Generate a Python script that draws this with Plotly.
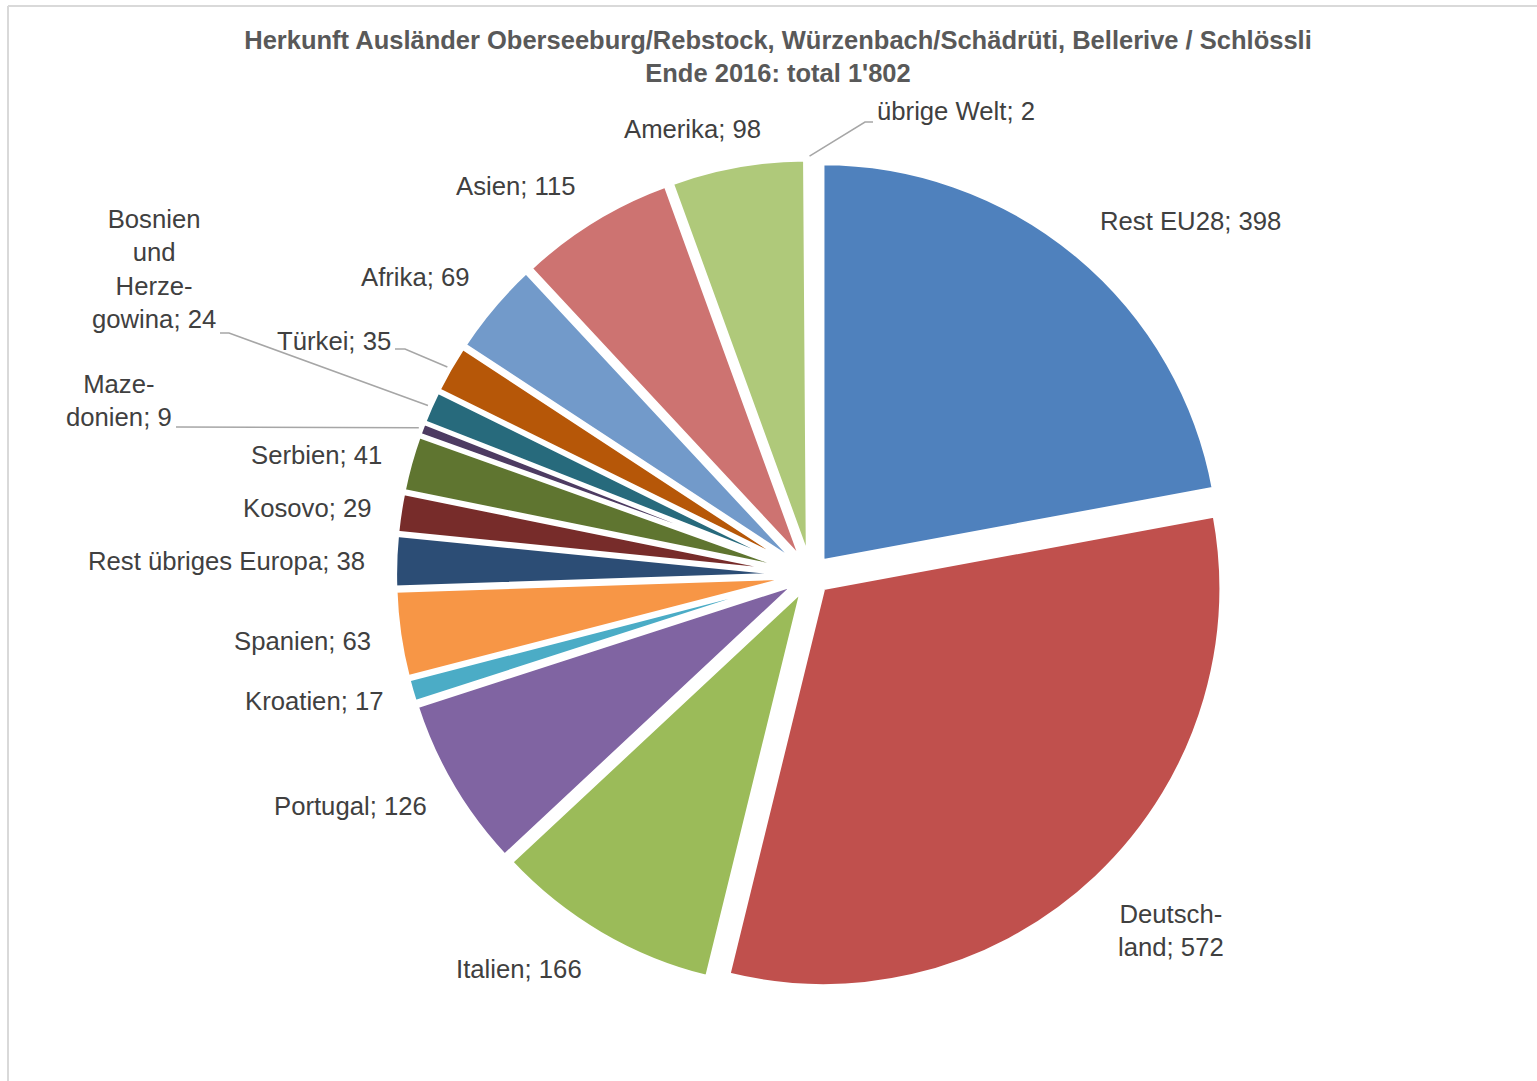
import math
import plotly.graph_objects as go

# ---------------- data ----------------
categories = ["Rest EU28", "Deutschland", "Italien", "Portugal", "Kroatien", "Spanien",
              "Rest übriges Europa", "Kosovo", "Serbien", "Mazedonien",
              "Bosnien und Herzegowina", "Türkei", "Afrika", "Asien", "Amerika", "übrige Welt"]
values = [398, 572, 166, 126, 17, 63, 38, 29, 41, 9, 24, 35, 69, 115, 98, 2]
label_texts = ["Rest EU28", "Deutsch-<br>land", "Italien", "Portugal", "Kroatien", "Spanien",
               "Rest übriges Europa", "Kosovo", "Serbien", "Maze-<br>donien",
               "Bosnien<br>und<br>Herze-<br>gowina", "Türkei", "Afrika", "Asien", "Amerika",
               "übrige Welt"]
title_lines = ["Herkunft Ausländer Oberseeburg/Rebstock, Würzenbach/Schädrüti, Bellerive / Schlössli",
               "Ende 2016: total 1'802"]

# ---------------- styles ----------------
colors = ["#4F81BD", "#C0504D", "#9BBB59", "#8064A2", "#4BACC6", "#F79646",
          "#2C4D75", "#772C2A", "#5F7530", "#4D3B62", "#276A7C", "#B65708",
          "#729ACA", "#CD7371", "#AFC97A", "#9983B5"]

W, H = 1537, 1081
CX, CY = 811, 575       # pie centre (px)
R = 398                 # pie radius (px)
PULL = 0.045
FONT = "Liberation Sans, Arial, sans-serif"
TXT = "#404040"
LABEL_SIZE = 25.7

# label positions (px, centre of text block)
LABEL_POS = {
    "Rest EU28": (1190, 221),
    "Deutschland": (1171, 930),
    "Italien": (519, 969),
    "Portugal": (350, 806),
    "Kroatien": (314, 701),
    "Spanien": (302, 641),
    "Rest übriges Europa": (227, 561),
    "Kosovo": (307, 508),
    "Serbien": (316, 455),
    "Mazedonien": (119, 400),
    "Bosnien und Herzegowina": (154, 269),
    "Türkei": (334, 341),
    "Afrika": (415, 277),
    "Asien": (515, 186),
    "Amerika": (692, 129),
    "übrige Welt": (956, 111),
}
# leader line start / elbow (px)
LEADERS = {
    "Mazedonien": [(176, 427)],
    "Bosnien und Herzegowina": [(220, 333), (229, 333)],
    "Türkei": [(395, 349), (405, 349)],
    "übrige Welt": [(873, 122), (865, 122)],
}


def px2paper(x, y):
    return x / W, 1 - y / H


half = R * (1 + PULL)
dom_x = [(CX - half) / W, (CX + half) / W]
dom_y = [1 - (CY + half) / H, 1 - (CY - half) / H]

fig = go.Figure(go.Pie(
    labels=categories,
    values=values,
    sort=False,
    direction="clockwise",
    rotation=0,
    pull=[PULL] * len(values),
    marker=dict(colors=colors, line=dict(color="white", width=4)),
    textinfo="none",
    hoverinfo="label+value",
    domain=dict(x=dom_x, y=dom_y),
    showlegend=False,
))

total = sum(values)
annotations = []
shapes = []
cum = 0
for cat, txt, v in zip(categories, label_texts, values):
    theta = math.radians(360 * (cum + v / 2) / total)
    cum += v
    lx, ly = LABEL_POS[cat]
    px, py = px2paper(lx, ly)
    annotations.append(dict(
        x=px, y=py, xref="paper", yref="paper", xanchor="center", yanchor="middle",
        text=f"{txt}; {v}", showarrow=False, align="center",
        font=dict(family=FONT, size=LABEL_SIZE, color=TXT)))
    if cat in LEADERS:
        rr = R * (1 + PULL) + 3
        tx = CX + rr * math.sin(theta)
        ty = CY - rr * math.cos(theta)
        pts = LEADERS[cat] + [(tx, ty)]
        path = "M " + " L ".join(f"{px2paper(a, b)[0]:.5f},{px2paper(a, b)[1]:.5f}" for a, b in pts)
        shapes.append(dict(type="path", path=path, xref="paper", yref="paper",
                           line=dict(color="#A6A6A6", width=1.5)))

# chart frame (top and left visible)
fx, fy = px2paper(8, 6)
shapes.append(dict(type="line", xref="paper", yref="paper", x0=fx, y0=fy, x1=1.0, y1=fy,
                   line=dict(color="#D9D9D9", width=2)))
shapes.append(dict(type="line", xref="paper", yref="paper", x0=fx, y0=fy, x1=fx, y1=0,
                   line=dict(color="#D9D9D9", width=2)))

tx_, ty_ = px2paper(778, 49)
fig.update_layout(
    width=W, height=H, autosize=False,
    margin=dict(l=0, r=0, t=0, b=0),
    paper_bgcolor="white", plot_bgcolor="white",
    title=dict(text="<br>".join(f"<b>{t}</b>" for t in title_lines),
               x=tx_, y=ty_, xanchor="center", yanchor="middle", xref="paper", yref="paper",
               font=dict(family=FONT, size=25.5, color="#595959")),
    annotations=annotations,
    shapes=shapes,
)

fig.write_html("out.html", config={"displayModeBar": False},
               post_script="document.body.style.margin='0px';document.body.style.overflow='hidden';")
